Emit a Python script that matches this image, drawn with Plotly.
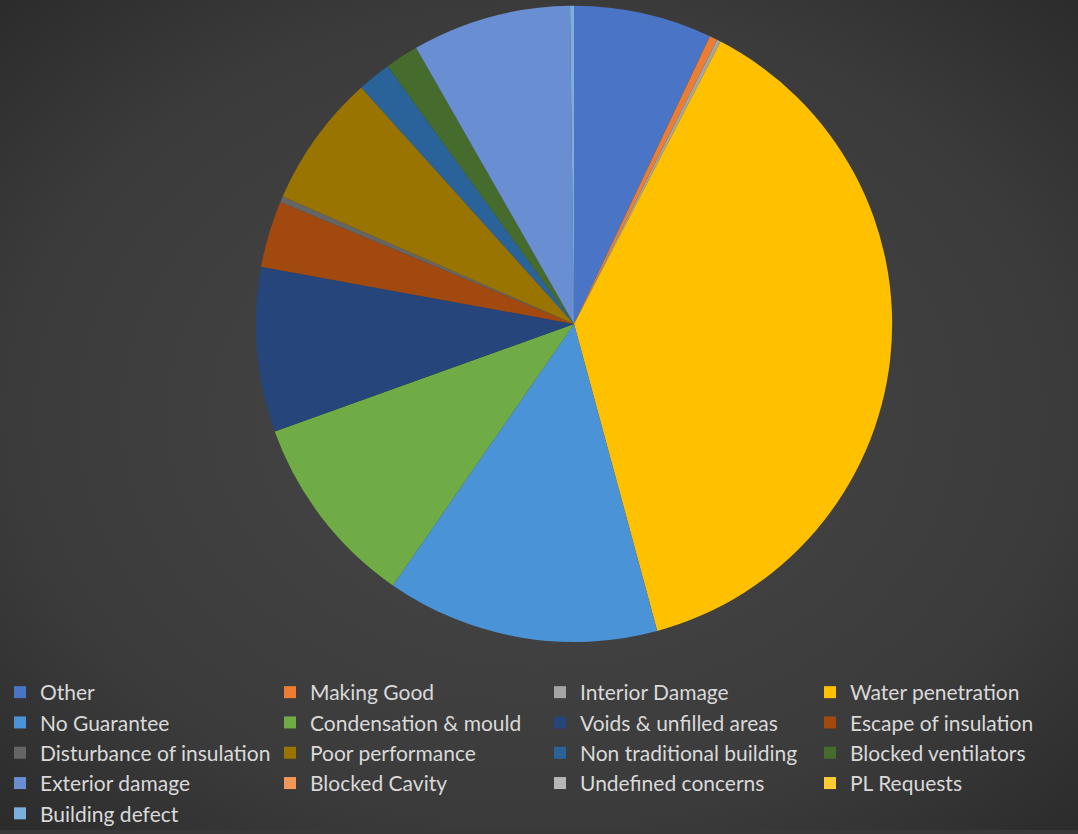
import plotly.graph_objects as go

labels = ["Other", "Making Good", "Interior Damage", "Water penetration",
          "No Guarantee", "Condensation & mould", "Voids & unfilled areas",
          "Escape of insulation", "Disturbance of insulation", "Poor performance",
          "Non traditional building", "Blocked ventilators", "Exterior damage",
          "Blocked Cavity", "Undefined concerns", "PL Requests", "Building defect"]
values = [70.5, 4, 2, 383, 139, 99, 84, 34, 3, 68, 17, 17, 81, 0, 0, 0, 2]
colors = ["#4A74C6", "#ED7D31", "#A5A5A5", "#FFC000", "#4A93D6", "#6FAC46",
          "#26457A", "#A2490F", "#656565", "#9A7400", "#2A629A", "#456C2C",
          "#6A8ED2", "#F1975A", "#B7B7B7", "#FFCD33", "#7CAFDD"]

fig = go.Figure()

# background radial vignette (decoration only)
fig.add_trace(go.Scatter(
    x=[-0.2, 1.2, 1.2, -0.2, -0.2], y=[-0.2, -0.2, 1.2, 1.2, -0.2],
    mode="lines", line=dict(width=0), fill="toself",
    fillgradient=dict(type="radial",
                      colorscale=[[0, "#474747"], [0.7, "#3B3B3B"], [1, "#2C2C2C"]]),
    hoverinfo="skip", showlegend=False,
))

fig.add_trace(go.Pie(
    labels=labels, values=values, sort=False, direction="clockwise", rotation=0,
    marker=dict(colors=colors, line=dict(width=0)),
    textinfo="none", hoverinfo="label+value+percent",
    domain=dict(x=[0.065, 1.0], y=[0.2265, 0.993]),
))

fig.update_xaxes(range=[0, 1], visible=False, domain=[0, 1], fixedrange=True)
fig.update_yaxes(range=[0, 1], visible=False, domain=[0, 1], fixedrange=True)

fig.update_layout(
    width=1078, height=834,
    margin=dict(l=0, r=0, t=0, b=0),
    paper_bgcolor="#393939", plot_bgcolor="rgba(0,0,0,0)",
    font=dict(family="Lato, Open Sans, sans-serif", color="#D9D9D9"),
    legend=dict(orientation="h", x=0, xanchor="left", y=0.19, yanchor="top",
                entrywidth=225, entrywidthmode="pixels",
                font=dict(size=21, color="#D9D9D9"),
                bgcolor="rgba(0,0,0,0)", traceorder="normal"),
)

fig.write_html("out.html")
